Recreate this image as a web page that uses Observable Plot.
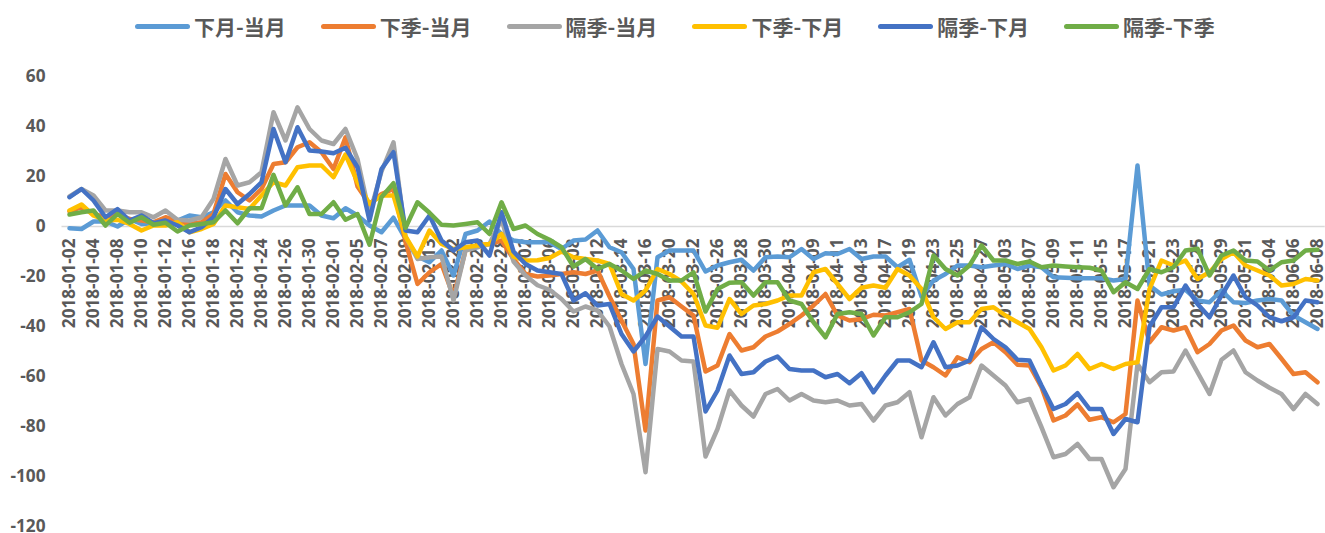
<!DOCTYPE html>
<html>
<head>
<meta charset="utf-8">
<script src="https://cdn.jsdelivr.net/npm/d3@7"></script>
<script src="https://cdn.jsdelivr.net/npm/@observablehq/plot@0.6"></script>
<style>
  html, body { margin: 0; padding: 0; background: #fff; }
  body { width: 1325px; height: 533px; overflow: hidden; }
  #legend { position: relative; width: 1325px; height: 50px; }
  .item { position: absolute; top: 12px; height: 28px; display: flex; align-items: center; white-space: nowrap; }
  .sw { width: 55px; height: 5px; border-radius: 3px; margin-right: 4px; }
  .lab { font-family: "Noto Sans CJK SC", sans-serif; font-weight: bold; font-size: 21px; color: #595959; line-height: 28px; }
  #chart svg { display: block; }
</style>
</head>
<body>
<div id="legend"></div>
<div id="chart"></div>
<script>
const seriesNames = ["下月-当月", "下季-当月", "隔季-当月", "下季-下月", "隔季-下月", "隔季-下季"];
const seriesColors = ["#5B9BD5", "#ED7D31", "#A5A5A5", "#FFC000", "#4472C4", "#70AD47"];

const dates = [
  "2018-01-02","2018-01-03","2018-01-04","2018-01-05","2018-01-08","2018-01-09","2018-01-10","2018-01-11","2018-01-12","2018-01-15",
  "2018-01-16","2018-01-17","2018-01-18","2018-01-19","2018-01-22","2018-01-23","2018-01-24","2018-01-25","2018-01-26","2018-01-29",
  "2018-01-30","2018-01-31","2018-02-01","2018-02-02","2018-02-05","2018-02-06","2018-02-07","2018-02-08","2018-02-09","2018-02-12",
  "2018-02-13","2018-02-14","2018-02-22","2018-02-23","2018-02-26","2018-02-27","2018-02-28","2018-03-01","2018-03-02","2018-03-05",
  "2018-03-06","2018-03-07","2018-03-08","2018-03-09","2018-03-12","2018-03-13","2018-03-14","2018-03-15","2018-03-16","2018-03-19",
  "2018-03-20","2018-03-21","2018-03-22","2018-03-23","2018-03-26","2018-03-27","2018-03-28","2018-03-29","2018-03-30","2018-04-02",
  "2018-04-03","2018-04-04","2018-04-09","2018-04-10","2018-04-11","2018-04-12","2018-04-13","2018-04-16","2018-04-17","2018-04-18",
  "2018-04-19","2018-04-20","2018-04-23","2018-04-24","2018-04-25","2018-04-26","2018-04-27","2018-05-02","2018-05-03","2018-05-04",
  "2018-05-07","2018-05-08","2018-05-09","2018-05-10","2018-05-11","2018-05-14","2018-05-15","2018-05-16","2018-05-17","2018-05-18",
  "2018-05-21","2018-05-22","2018-05-23","2018-05-24","2018-05-25","2018-05-28","2018-05-29","2018-05-30","2018-05-31","2018-06-01",
  "2018-06-04","2018-06-05","2018-06-06","2018-06-07","2018-06-08"
];

// 下月-当月
const nextMonthVsCurrent = [
  -0.7,-1,2,2,0,3,1,1.3,1.7,2.4, 4.4,3.7,5.7,10.4,5.7,4.4,4,6.4,8.4,8.4,
  8.4,4.4,3.3,7.3,4.4,0.4,-2.3,3.5,-5,-12, -14.3,-9.6,-19.6,-3,-1.6,2,-3,-5.6,-6.3,-6.3,
  -6.3,-9,-5.6,-5.2,-1.6,-8.3,-10.3,-17,-55,-12.3, -9.6,-9.6,-9.6,-18,-15.6,-14.3,-13.3,-17.6,-12.3,-12,
  -12.3,-9,-13,-10.7,-11,-9,-13,-12,-12,-16.3, -13.3,-28,-21.6,-19,-15.6,-15.6,-16.3,-15.6,-15,-17,
  -15.6,-16.3,-20.3,-20.5,-20.7,-20.7,-20.7,-21.6,-21,24.4, -23.6,-27.2,-25.9,-25.3,-29.6,-30.3,-25.6,-30.3,-30.6,-29.6,
  -29,-29.6,-35.6,-38.3,-41
];
// 下季-当月
const nextQuarterVsCurrent = [
  6,7.7,5,3.7,5,3,2.4,1.7,3.7,2.4, 1,1.7,5,21,13.7,10.4,15,25,25.7,31.7,
  33.7,29.7,23,35.7,16,9,13,15,-6,-23, -18.3,-15,-28,-9.6,-7.6,-7,-5.6,-13,-19,-20,
  -19.6,-19,-18.3,-19,-17.6,-28,-37.6,-47,-81.6,-29.6, -28.3,-32,-35.6,-58,-55.6,-43,-49.6,-48.3,-44,-42,
  -39,-35.6,-31.6,-27,-35.6,-37.6,-37,-35.3,-35.6,-34.3, -33,-53.6,-56.3,-59.6,-52.3,-54.3,-49,-46.3,-50.3,-55.3,
  -55.6,-64.3,-77.6,-75.6,-71.2,-77.3,-76.3,-78.3,-75,-29.6, -46.3,-40.3,-41.6,-40.3,-50.3,-47,-41.6,-39.6,-45.6,-48.3,
  -47,-52.9,-59,-58.3,-62.3
];
// 隔季-当月
const farQuarterVsCurrent = [
  12,15,12.4,6.4,6.4,5.7,5.7,3.7,6.4,2.7, 2.4,3.7,11,27,16.4,17.7,21.7,45.7,34.4,47.7,
  39,34.4,33,39,27,5,22,33.7,-4,-13, -12.3,-12,-29.6,-9.6,-8.3,-7,3,-14,-19.6,-23.5,
  -25.3,-29,-34,-32,-33.6,-40,-55,-67,-98.3,-49, -50,-53.6,-54,-92,-81,-65.6,-71.6,-76,-67,-65,
  -69.6,-67,-69.6,-70.3,-69.6,-71.6,-71,-77.6,-71.6,-70.3, -66.3,-84.3,-68.3,-75.6,-71,-68.3,-55.6,-59.6,-63.6,-70.3,
  -69,-80.3,-92.3,-91,-87,-93,-93,-104.3,-97,-55, -62.3,-58.3,-58,-49.6,-58.3,-67,-53.3,-49.6,-58.3,-61.6,
  -64.5,-67,-73,-67,-71
];
// 下季-下月
const nextQuarterVsNextMonth = [
  6.4,8.8,4.4,2.4,2.7,1,-1.6,0.4,0.4,1.7, -2.3,-1,1,8.4,7.7,7,12.4,17.7,16.4,23.7,
  24.4,24.4,19.7,28.8,17.7,9,12.4,12.4,-4,-12, -1.6,-7,-9,-8.3,-7.6,-7,-3,-12,-13.6,-13.5,
  -12.6,-10,-12.3,-13,-13.6,-15,-27,-29.6,-25.6,-17, -19,-22,-27,-39.6,-40.5,-29,-35,-31.6,-31,-29.6,
  -27.6,-27.6,-18.3,-17,-23,-29,-24.5,-23.6,-24.5,-17, -19.6,-25,-36.3,-41,-38.3,-38.3,-33,-32.3,-35.6,-38.3,
  -41,-48.3,-57.6,-55.6,-51,-57,-55,-57,-55,-54.3, -25,-13.6,-15.6,-13.6,-21,-18.3,-13,-10.3,-15.6,-17.6,
  -19.6,-23.6,-23,-21,-21.6
];
// 隔季-下月
const farQuarterVsNextMonth = [
  11.7,15,10.4,3.7,7,2.4,4.4,1.3,2.4,0.4, -2.3,-0.3,3.7,15,9,13,17.7,39,25.7,39.7,
  30.4,30,29.3,31.5,23.7,2.4,23,29.7,-1.6,-2.3, 4.4,-5.6,-9.6,-6.3,-5.6,-11.6,5.7,-10,-15,-17.6,
  -18.3,-19,-29.6,-26.7,-31.6,-31,-43,-50,-44,-36, -40,-44,-44,-74,-65.6,-51.6,-59,-58.3,-54,-52,
  -57,-57.6,-57.6,-60.3,-59,-62.7,-58.7,-66.3,-59.6,-53.6, -53.6,-56.3,-46.3,-56.3,-55.6,-53.6,-40.3,-45,-48.3,-53.3,
  -53.6,-63.6,-73,-71,-66.7,-73,-73,-83,-77,-78.3, -40,-32.3,-32.3,-23.6,-31,-36.3,-27.6,-19.6,-28.3,-31.6,
  -36.3,-37.9,-36.3,-29.6,-30.3
];
// 隔季-下季
const farQuarterVsNextQuarter = [
  4.8,5.7,6.4,0.4,5,1.5,3.7,0.7,1.5,-2, 0.4,1,1.7,6.4,1.3,7.3,7.3,20.7,8.4,15.7,
  5,5,9.7,2.7,5,-7.3,11.7,17.3,-0.5,9.7, 5.5,0.7,0.4,1,1.7,-3,9.7,-1,0.4,-3,
  -5.3,-8.3,-16,-13,-17,-15,-17.6,-21,-17.6,-19, -21.6,-21.6,-18.3,-34,-25,-22.5,-22.3,-27.6,-22.3,-22.3,
  -29.6,-31,-38.3,-44.3,-35,-34.3,-35,-43.6,-36.3,-36.3, -34.3,-31,-11.6,-17,-19.6,-15.6,-7.6,-13.6,-13.6,-15,
  -14,-16.3,-15.6,-16,-16.3,-16.5,-17.6,-26.3,-22.3,-25, -17,-18.3,-16.3,-9.6,-8.9,-19.6,-11.6,-9.6,-13.6,-14,
  -17.6,-14.3,-13.6,-9.6,-9.3
];

const yTicks = [60, 40, 20, 0, -20, -40, -60, -80, -100, -120];
const tickDates = dates.filter((d, i) => i % 2 === 0);

const seriesValues = [nextMonthVsCurrent, nextQuarterVsCurrent, farQuarterVsCurrent,
                      nextQuarterVsNextMonth, farQuarterVsNextMonth, farQuarterVsNextQuarter];

const rows = [];
seriesNames.forEach((name, s) => {
  seriesValues[s].forEach((v, i) => rows.push({date: dates[i], series: name, value: v}));
});

// Legend (HTML, above the SVG)
const legend = document.getElementById("legend");
seriesNames.forEach((name, i) => {
  const item = document.createElement("div");
  item.className = "item";
  item.style.left = (135 + 185.8 * i) + "px";
  const sw = document.createElement("div");
  sw.className = "sw";
  sw.style.background = seriesColors[i];
  const lab = document.createElement("span");
  lab.className = "lab";
  lab.textContent = name;
  item.appendChild(sw);
  item.appendChild(lab);
  legend.appendChild(item);
});

const tickFont = "'Open Sans', 'Liberation Sans', sans-serif";

const chart = Plot.plot({
  width: 1325,
  height: 483,
  marginLeft: 61.5,
  marginRight: 0.3,
  marginTop: 26,
  marginBottom: 7,
  x: {type: "point", domain: dates, padding: 0.5, axis: null},
  y: {domain: [-120, 60], label: null},
  color: {domain: seriesNames, range: seriesColors},
  style: {background: "#fff", overflow: "visible"},
  marks: [
    Plot.axisY({
      ticks: yTicks, tickSize: 0, tickPadding: 16.5, tickFormat: d => String(d), label: null,
      fontSize: 17.2, fontWeight: "bold", fill: "#595959", fontFamily: tickFont
    }),
    Plot.ruleY([0], {stroke: "#d9d9d9", strokeWidth: 1.5}),
    Plot.text(tickDates, {
      x: d => d, y: d => 0, text: d => d, rotate: -90, textAnchor: "end", dy: 12,
      fontSize: 17.2, fontWeight: "bold", fill: "#595959", fontFamily: tickFont
    }),
    Plot.line(rows, {
      x: "date", y: "value", z: "series", stroke: "series",
      strokeWidth: 4.5, strokeLinejoin: "round", strokeLinecap: "round"
    })
  ]
});
document.getElementById("chart").appendChild(chart);
</script>
</body>
</html>
